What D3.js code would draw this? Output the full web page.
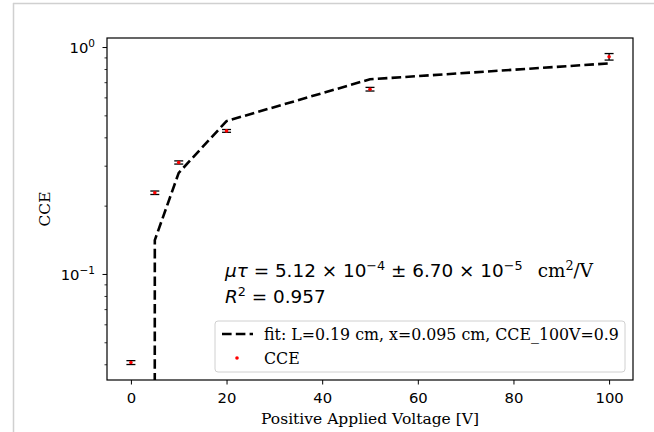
<!DOCTYPE html>
<html><head><meta charset="utf-8">
<script src="https://cdn.jsdelivr.net/npm/d3@7"></script>
<style>
body{margin:0;background:#fff;}
svg{display:block;}
</style></head>
<body>
<svg id="c" width="654" height="432"></svg>
<script>
const voltages = [0, 5, 10, 20, 50, 100];
const cceValues = [0.0407, 0.228, 0.310, 0.427, 0.652, 0.906];
const cceErrors = [0.0008, 0.004, 0.005, 0.006, 0.012, 0.03];
const fitVoltages = [0, 5, 10, 20, 50, 100];
const fitValues = [1e-300, 0.141, 0.279, 0.472, 0.721, 0.847];
const xTicks = [0, 20, 40, 60, 80, 100];
const yMajorTicks = [0.1, 1];
const yMinorTicks = [0.04,0.05,0.06,0.07,0.08,0.09,0.2,0.3,0.4,0.5,0.6,0.7,0.8,0.9];
const legendLabels = ["fit: L=0.19 cm, x=0.095 cm, CCE_100V=0.9", "CCE"];

const svg = d3.select("#c");
const L = 107, R = 633, T = 38, B = 380;
const x = d3.scaleLinear().domain([-5, 105]).range([L, R]);
const y = d3.scaleLog().domain([0.0341, 1.096]).range([B, T]);

// outer frame lines
svg.append("line").attr("x1",13.5).attr("x2",13.5).attr("y1",3).attr("y2",432).attr("stroke","#d0d0d0").attr("stroke-width",1.5);
svg.append("line").attr("x1",13).attr("x2",654).attr("y1",3.5).attr("y2",3.5).attr("stroke","#d0d0d0").attr("stroke-width",1.5);

svg.append("defs").append("clipPath").attr("id","clip").append("rect")
  .attr("x",L).attr("y",T).attr("width",R-L).attr("height",B-T);

const sans = "DejaVu Sans, sans-serif";
const serif = "DejaVu Serif, serif";

// x axis
const xAxis = d3.axisBottom(x).tickValues(xTicks).tickSize(4.5).tickPadding(8).tickFormat(d3.format("d"));
const gx = svg.append("g").attr("transform",`translate(0,${B})`).call(xAxis);
gx.select(".domain").remove();
gx.selectAll("line").attr("stroke","#000").attr("stroke-width",1);
gx.selectAll("text").attr("font-family",sans).attr("font-size",14.8).attr("fill","#000");

// y axis major
const yAxis = d3.axisLeft(y).tickValues(yMajorTicks).tickSize(4.5).tickFormat(()=>"");
const gy = svg.append("g").attr("transform",`translate(${L},0)`).call(yAxis);
gy.select(".domain").remove();
gy.selectAll("line").attr("stroke","#000").attr("stroke-width",1);
const yMinor = d3.axisLeft(y).tickValues(yMinorTicks).tickSize(2.5).tickFormat(()=>"");
const gym = svg.append("g").attr("transform",`translate(${L},0)`).call(yMinor);
gym.select(".domain").remove();
gym.selectAll("line").attr("stroke","#000").attr("stroke-width",0.8);

// y tick labels 10^e
yMajorTicks.forEach(v=>{
  const e = Math.round(Math.log10(v));
  const t = svg.append("text").attr("x",L-12).attr("y",y(v)+6).attr("text-anchor","end")
    .attr("font-family",sans).attr("font-size",14.8).attr("fill","#000");
  t.append("tspan").text("10");
  t.append("tspan").attr("dy",-6).attr("font-size",10.5).text(e===0?"0":"\u2212"+Math.abs(e));
});

// fit line
const line = d3.line().x((d,i)=>x(fitVoltages[i])).y(d=>y(d));
svg.append("path").datum(fitValues).attr("clip-path","url(#clip)")
  .attr("d",line).attr("fill","none").attr("stroke","#000").attr("stroke-width",2.6)
  .attr("stroke-dasharray","9.6,4.2");

// error bars
const eb = svg.append("g").attr("clip-path","url(#clip)");
voltages.forEach((v,i)=>{
  const cx = x(v), y1 = y(cceValues[i]-cceErrors[i]), y2 = y(cceValues[i]+cceErrors[i]);
  eb.append("line").attr("x1",cx).attr("x2",cx).attr("y1",y1).attr("y2",y2).attr("stroke","#000").attr("stroke-width",1.3);
  [y1,y2].forEach(yy=>eb.append("line").attr("x1",cx-4.5).attr("x2",cx+4.5).attr("y1",yy).attr("y2",yy).attr("stroke","#000").attr("stroke-width",1.3));
});
eb.selectAll("circle.pt").data(cceValues).enter().append("circle")
  .attr("cx",(d,i)=>x(voltages[i])).attr("cy",d=>y(d)).attr("r",1.8).attr("fill","#ff0000");

// spines
svg.append("rect").attr("x",L).attr("y",T).attr("width",R-L).attr("height",B-T)
  .attr("fill","none").attr("stroke","#000").attr("stroke-width",1.2);

// axis labels
svg.append("text").attr("x",(L+R)/2).attr("y",424).attr("text-anchor","middle")
  .attr("font-family",serif).attr("font-size",15.5).attr("fill","#000").text("Positive Applied Voltage [V]");
svg.append("text").attr("transform",`translate(50,${(T+B)/2}) rotate(-90)`).attr("text-anchor","middle")
  .attr("font-family",serif).attr("font-size",15.5).attr("fill","#000").text("CCE");

// annotation
const a1 = svg.append("text").attr("x",225).attr("y",277).attr("font-family",sans).attr("font-size",18.4).attr("fill","#000");
a1.append("tspan").attr("font-style","italic").text("\u03bc\u03c4");
a1.append("tspan").text(" = 5.12 \u00d7 10");
a1.append("tspan").attr("dy",-7.5).attr("font-size",12.8).text("\u22124");
a1.append("tspan").attr("dy",7.5).text(" \u00b1 6.70 \u00d7 10");
a1.append("tspan").attr("dy",-7.5).attr("font-size",12.8).text("\u22125");
a1.append("tspan").attr("dy",7.5).attr("font-family",serif).text("\u2002 cm");
a1.append("tspan").attr("dy",-7.5).attr("font-family",serif).attr("font-size",12.8).text("2");
a1.append("tspan").attr("dy",7.5).attr("font-family",serif).text("/V");
const a2 = svg.append("text").attr("x",225).attr("y",303).attr("font-family",sans).attr("font-size",18.4).attr("fill","#000");
a2.append("tspan").attr("font-style","italic").text("R");
a2.append("tspan").attr("dy",-7.5).attr("font-size",12.8).text("2");
a2.append("tspan").attr("dy",7.5).text(" = 0.957");

// legend
const lg = svg.append("g");
lg.append("rect").attr("x",215).attr("y",321).attr("width",410).attr("height",51).attr("rx",3)
  .attr("fill","#fff").attr("fill-opacity",0.8).attr("stroke","#d0d0d0").attr("stroke-width",1);
lg.append("line").attr("x1",222).attr("x2",253).attr("y1",334).attr("y2",334)
  .attr("stroke","#000").attr("stroke-width",2.6).attr("stroke-dasharray","9.6,4.2");
lg.append("circle").attr("cx",237).attr("cy",358).attr("r",1.8).attr("fill","#ff0000");
legendLabels.forEach((t,i)=>{
  lg.append("text").attr("x",264).attr("y",340+i*24).attr("font-family",serif).attr("font-size",15.8)
    .attr("fill","#000").text(t);
});
</script>
</body></html>
